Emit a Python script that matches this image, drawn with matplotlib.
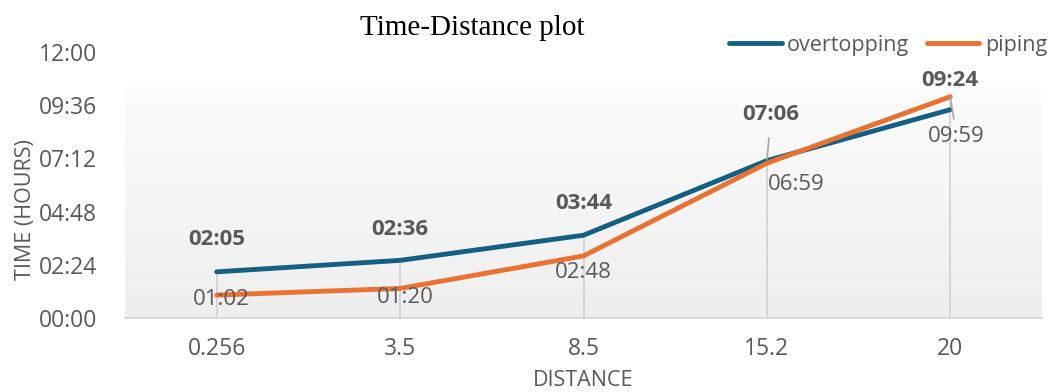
import numpy as np
import matplotlib.pyplot as plt
from matplotlib.colors import LinearSegmentedColormap

# Data: distance categories and arrival times (HH:MM)
distances = ["0.256", "3.5", "8.5", "15.2", "20"]
overtopping = ["02:05", "02:36", "03:44", "07:06", "09:24"]
piping = ["01:02", "01:20", "02:48", "06:59", "09:59"]
y_tick_labels = ["00:00", "02:24", "04:48", "07:12", "09:36", "12:00"]


def to_hours(s):
    h, m = s.split(":")
    return int(h) + int(m) / 60.0


ov = np.array([to_hours(v) for v in overtopping])
pi = np.array([to_hours(v) for v in piping])
yt = np.array([to_hours(v) for v in y_tick_labels])
x = np.arange(len(distances))

BLUE = "#156082"
ORANGE = "#E97132"
TXT = "#595959"
FONT = "Open Sans"

plt.rcParams["font.family"] = [FONT, "DejaVu Sans"]

fig = plt.figure(figsize=(10.51, 3.92), dpi=100)
ax = fig.add_axes([125 / 1051, 1 - 318 / 392, 917 / 1051, 266 / 392])
ax.set_xlim(-0.5, len(distances) - 0.5)
ax.set_ylim(0, 12)

# soft vertical gradient behind the plot
grad = np.linspace(0, 1, 256).reshape(-1, 1)
cmap = LinearSegmentedColormap.from_list("bg", ["#eeeeee", "#fcfcfc"])
ax.imshow(grad, cmap=cmap, origin="lower", aspect="auto",
          extent=[-0.5, len(distances) - 0.5, 0, 10.4], zorder=0)

# drop lines
ax.vlines(x, 0, np.maximum(ov, pi), color="#d3d3d3", lw=1.3, zorder=1)

ax.plot(x, ov, color=BLUE, lw=3.5, label="overtopping", zorder=3,
        solid_capstyle="round", solid_joinstyle="round")
ax.plot(x, pi, color=ORANGE, lw=3.5, label="piping", zorder=3,
        solid_capstyle="round", solid_joinstyle="round")

# data labels (offsets in points)
ov_off = [(0, 23), (0, 22.5), (0, 22.5), (3, 33), (0, 21)]
pi_off = [(3.5, -3.5), (3.5, -6.5), (0, -12), (21, -15), (4.5, -28.5)]
ov_leader = [False, False, False, True, False]
pi_leader = [False, False, False, False, True]

for i in range(len(distances)):
    kw = {}
    if ov_leader[i]:
        kw["arrowprops"] = dict(arrowstyle="-", color="#a6a6a6", lw=1.2,
                                shrinkA=7, shrinkB=1)
    ax.annotate(overtopping[i], (x[i], ov[i]), xytext=ov_off[i],
                textcoords="offset points", ha="center", va="center",
                fontsize=16, fontweight="bold", color=TXT, zorder=5, **kw)
    kw = {}
    if pi_leader[i]:
        kw["arrowprops"] = dict(arrowstyle="-", color="#a6a6a6", lw=1.2,
                                shrinkA=3, shrinkB=0)
    ax.annotate(piping[i], (x[i], pi[i]), xytext=pi_off[i],
                textcoords="offset points", ha="center", va="center",
                fontsize=16, color=TXT, zorder=5, **kw)

ax.set_xticks(x)
ax.set_xticklabels(distances)
ax.set_yticks(yt)
ax.set_yticklabels(y_tick_labels)
ax.tick_params(axis="both", length=0, labelsize=16.5, labelcolor=TXT)
ax.tick_params(axis="x", pad=14)
ax.tick_params(axis="y", pad=20)

for s in ("top", "right", "left"):
    ax.spines[s].set_visible(False)
ax.spines["bottom"].set_color("#d9d9d9")
ax.spines["bottom"].set_linewidth(1.5)
ax.spines["bottom"].set_zorder(2)

fig.text(472.5 / 1051, 1 - 28 / 392, "Time-Distance plot",
         family="Liberation Serif", fontsize=21, color="black",
         ha="center", va="center")
fig.text(583 / 1051, 1 - 381 / 392, "DISTANCE", fontsize=15.5,
         color=TXT, ha="center", va="center")
fig.text(25 / 1051, 1 - 210 / 392, "TIME (HOURS)", fontsize=15.5,
         color=TXT, ha="center", va="center", rotation=90)

fig.legend(loc="center right", bbox_to_anchor=(1047 / 1051, 1 - 45 / 392),
           ncol=2, frameon=False, fontsize=15.5, labelcolor=TXT,
           handlelength=2.45, handletextpad=0.25, columnspacing=0.8,
           borderpad=0, borderaxespad=0)

fig.savefig("out.png", dpi=100, facecolor="white")
